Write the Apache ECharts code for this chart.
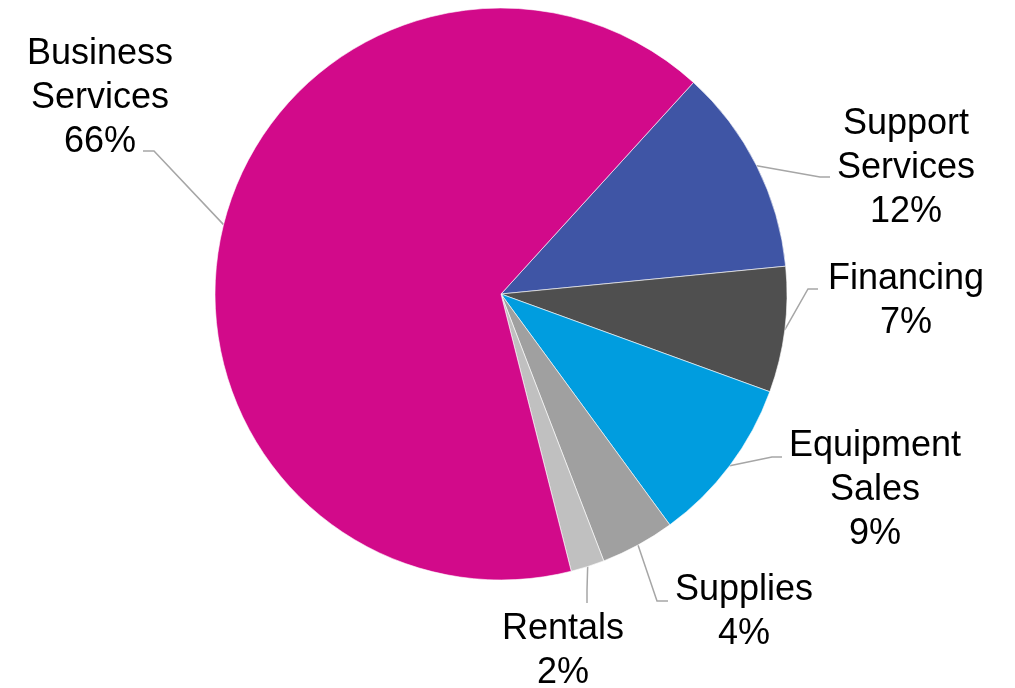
<!DOCTYPE html>
<html>
<head>
<meta charset="utf-8">
<script src="https://cdn.jsdelivr.net/npm/echarts@6/dist/echarts.min.js"></script>
<style>
html,body{margin:0;padding:0;background:#fff;}
#chart{width:1015px;height:688px;}
</style>
</head>
<body>
<div id="chart"></div>
<script>
// Data (clockwise order starting after the Business Services slice)
const categories = ['Support Services', 'Financing', 'Equipment Sales', 'Supplies', 'Rentals', 'Business Services'];
const values = [11.7, 7.1, 9.4, 4.2, 1.9, 65.7];
const colors = ['#3F55A5', '#4F4F4F', '#009DDF', '#A0A0A0', '#C0C0C0', '#D20A8A'];

// Label placement (layout only)
const labelPos = [
  {x: 906, y: 168, bend: [820, 177], end: [830, 177]},
  {x: 906, y: 301, bend: [808, 289], end: [818, 289]},
  {x: 875, y: 490, bend: [772, 457], end: [782, 457]},
  {x: 744, y: 612, bend: [657, 601], end: [668, 601]},
  {x: 563, y: 651, bend: [587, 590], end: [587, 603]},
  {x: 100, y: 98, bend: [154, 151], end: [143, 151]}
];

const chart = echarts.init(document.getElementById('chart'), null, {renderer: 'canvas'});
chart.setOption({
  animation: false,
  backgroundColor: '#fff',
  series: [{
    type: 'pie',
    center: [501, 294],
    radius: [0, 286],
    startAngle: 47.7,
    clockwise: true,
    percentPrecision: 0,
    avoidLabelOverlap: false,
    itemStyle: {borderColor: '#ffffff', borderWidth: 0.6},
    label: {
      show: true,
      position: 'outside',
      formatter: p => p.name.replace(' ', '\n') + '\n' + p.percent + '%',
      fontFamily: 'Liberation Sans, Arial, sans-serif',
      fontSize: 36,
      lineHeight: 44,
      color: '#000',
      align: 'center'
    },
    labelLine: {show: true, lineStyle: {color: '#A6A6A6', width: 1.5}},
    labelLayout: function (params) {
      const lp = labelPos[params.dataIndex];
      const start = params.labelLinePoints ? params.labelLinePoints[0] : lp.bend;
      return {
        x: lp.x, y: lp.y, align: 'center', verticalAlign: 'middle',
        labelLinePoints: [start, lp.bend, lp.end]
      };
    },
    emphasis: {disabled: true},
    data: categories.map((c, i) => ({name: c, value: values[i], itemStyle: {color: colors[i]}}))
  }]
});
</script>
</body>
</html>
